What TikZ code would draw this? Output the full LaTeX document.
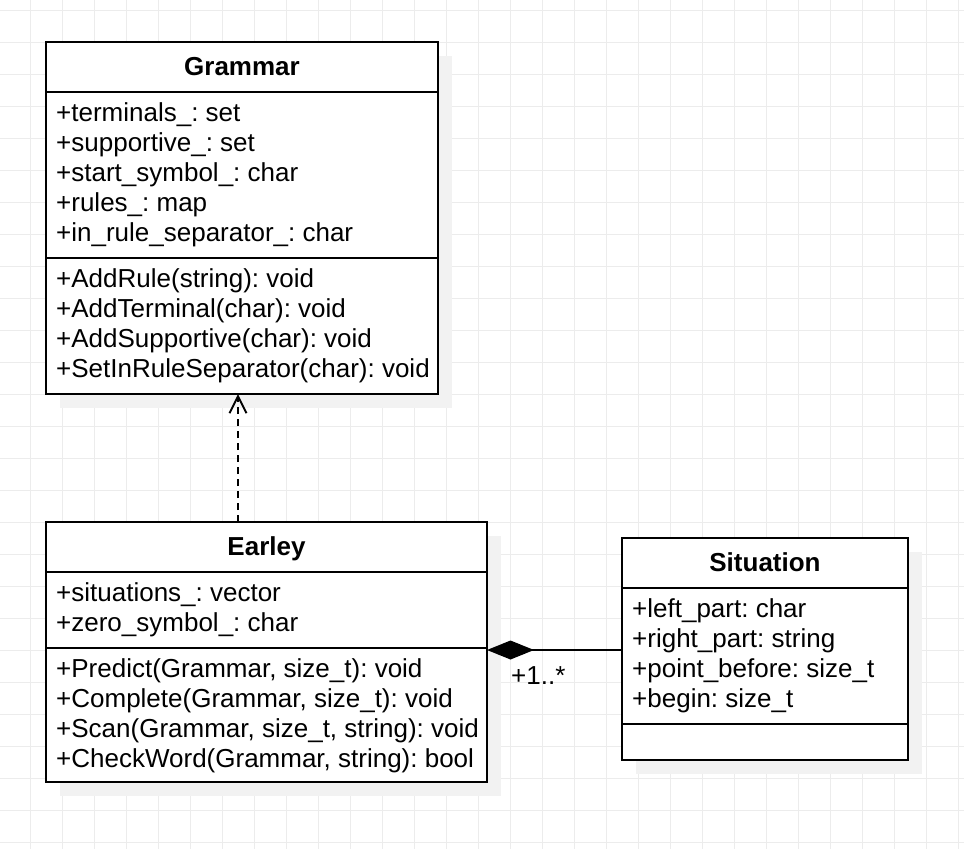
\documentclass[tikz,border=0pt]{standalone}
\usepackage{fontspec}
\setmainfont{Liberation Sans}
\usetikzlibrary{positioning,calc,arrows.meta,shadows}
\definecolor{gridgray}{RGB}{236,236,236}
\definecolor{shadowgray}{RGB}{242,242,242}
\newcommand{\umlfont}{\fontsize{26pt}{30pt}\selectfont\frenchspacing}
\tikzset{
  part/.style={draw, line width=2pt, fill=white, anchor=north west, inner sep=0pt, outer sep=0pt,
    drop shadow={shadow xshift=14pt, shadow yshift=-14pt, fill=shadowgray, opacity=1}},
  head/.style={part, font=\umlfont\bfseries, text height=17pt, text depth=0pt, minimum height=50pt},
  member/.style={anchor=base west, inner sep=0pt},
  gridline/.style={draw=gridgray, line width=1pt},
  depend/.style={line width=2pt, dash pattern=on 7pt off 5pt, -{Straight Barb[length=17pt,width=17pt]}},
  compose/.style={line width=2pt, -{Diamond[length=47pt,width=19pt]}}
}

\begin{document}
\begin{tikzpicture}[x=1pt,y=-1pt,font=\umlfont]
\useasboundingbox (0,0) rectangle (964,849);
\fill[white] (0,0) rectangle (964,849);
% background grid
\foreach \gx in {0,...,29} \draw[gridline] ({30.5+32*\gx},0) -- ++(0,849);
\foreach \gy in {0,...,26} \draw[gridline] (0,{10.5+32*\gy}) -- ++(964,0);

% Grammar
\node[head, minimum width=392pt] (grammarHead) at (46,42) {Grammar};
\node[part, minimum width=392pt, minimum height=166pt] (grammarAttr) at (grammarHead.south west) {};
\node[part, minimum width=392pt, minimum height=136pt] (grammarOps) at (grammarAttr.south west) {};
\foreach \m [count=\i] in {+terminals\_: set, +supportive\_: set, +start\_symbol\_: char, +rules\_: map, +in\_rule\_separator\_: char}
  \node[member] (ga\i) at ($(grammarAttr.north west)+(10,{29+30*(\i-1)})$) {\m};
\foreach \m [count=\i] in {+AddRule(string): void, +AddTerminal(char): void, +AddSupportive(char): void, +SetInRuleSeparator(char): void}
  \node[member] (go\i) at ($(grammarOps.north west)+(10,{29+30*(\i-1)})$) {\m};

% Earley
\node[head, minimum width=441pt] (earleyHead) at (46,522) {Earley};
\node[part, minimum width=441pt, minimum height=76pt] (earleyAttr) at (earleyHead.south west) {};
\node[part, minimum width=441pt, minimum height=134pt] (earleyOps) at (earleyAttr.south west) {};
\foreach \m [count=\i] in {+situations\_: vector, +zero\_symbol\_: char}
  \node[member] (ea\i) at ($(earleyAttr.north west)+(10,{29+30*(\i-1)})$) {\m};
\foreach \m [count=\i] in {{+Predict(Grammar, size\_t): void}, {+Complete(Grammar, size\_t): void}, {+Scan(Grammar, size\_t, string): void}, {+CheckWord(Grammar, string): bool}}
  \node[member] (eo\i) at ($(earleyOps.north west)+(10,{29+30*(\i-1)})$) {\m};

% Situation
\node[head, minimum width=286pt] (situationHead) at (622,538) {Situation};
\node[part, minimum width=286pt, minimum height=136pt] (situationAttr) at (situationHead.south west) {};
\node[part, minimum width=286pt, minimum height=36pt] (situationOps) at (situationAttr.south west) {};
\foreach \m [count=\i] in {+left\_part: char, +right\_part: string, +point\_before: size\_t, +begin: size\_t}
  \node[member] (sa\i) at ($(situationAttr.north west)+(10,{29+30*(\i-1)})$) {\m};

% connectors
\coordinate (depx) at (238,0);
\coordinate (compy) at (0,650);
\draw[depend] (depx |- earleyHead.north) -- (depx |- grammarOps.south);
\draw[compose] (situationAttr.west |- compy) -- (earleyOps.east |- compy);
\node[member] (mult) at (511,684.5) {+1..*};
\end{tikzpicture}
\end{document}
